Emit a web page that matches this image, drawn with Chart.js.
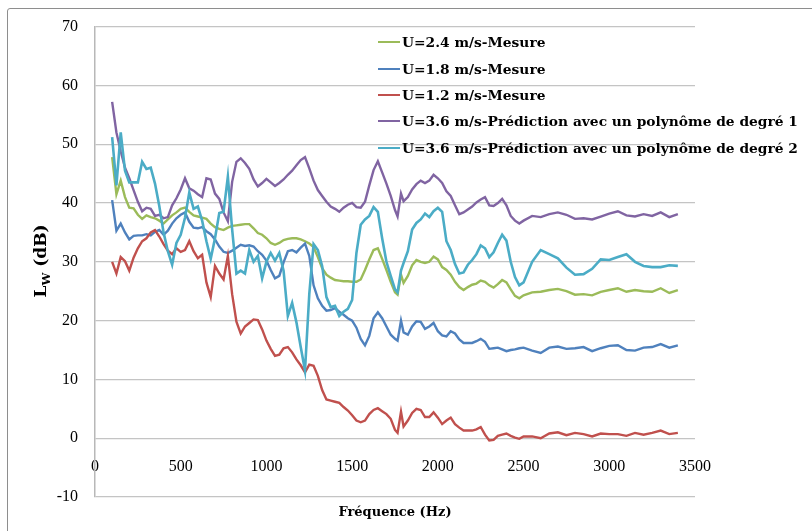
<!DOCTYPE html>
<html>
<head>
<meta charset="utf-8">
<script src="https://cdn.jsdelivr.net/npm/chart.js@4.4.1/dist/chart.umd.min.js"></script>
<style>
    body { margin: 0; background: #fff; }
    #wrap { position: relative; width: 812px; height: 531px; overflow: hidden; background: #fff; }
    #frame { position: absolute; left: 7px; top: 8px; width: 900px; height: 700px; border: 1px solid #8e8e8e; border-radius: 3px; pointer-events: none; }
    #legend { position: absolute; left: 378px; top: 29px; font: bold 13.8px "DejaVu Serif", serif; color: #000; }
    #legend .item { display: flex; align-items: center; height: 26.4px; white-space: nowrap; }
    #legend .sw { display: inline-block; width: 22px; height: 2px; margin-right: 2px; }
    #ytitle { position: absolute; left: 40px; top: 261px; transform: translate(-50%, -50%) rotate(-90deg); font: bold 17px "DejaVu Serif", serif; line-height: 20px; white-space: nowrap; color: #000; }
    #ytitle sub { font-size: 11.5px; line-height: 0; }
</style>
</head>
<body>
<div id="wrap">
    <canvas id="chart" width="812" height="531"></canvas>
    <div id="frame"></div>
    <div id="legend"></div>
    <div id="ytitle">L<sub>W</sub> (dB)</div>
</div>
<script>
// Fréquences (Hz)
const freqs = [
    100, 125, 150, 175, 200, 225, 250, 275, 300, 325,
    350, 375, 400, 425, 450, 475, 500, 525, 550, 575,
    600, 625, 650, 675, 700, 725, 750, 775, 800, 825,
    850, 875, 900, 925, 950, 975, 1000, 1025, 1050, 1075,
    1100, 1125, 1150, 1175, 1200, 1225, 1250, 1275, 1300, 1325,
    1350, 1375, 1400, 1425, 1450, 1475, 1500, 1525, 1550, 1575,
    1600, 1625, 1650, 1675, 1700, 1725, 1750, 1765, 1785, 1800,
    1825, 1850, 1875, 1900, 1925, 1950, 1975, 2000, 2025, 2050,
    2075, 2100, 2125, 2150, 2175, 2200, 2225, 2250, 2275, 2300,
    2325, 2350, 2375, 2400, 2425, 2450, 2475, 2500, 2550, 2600,
    2650, 2700, 2750, 2800, 2850, 2900, 2950, 3000, 3050, 3100,
    3150, 3200, 3250, 3300, 3350, 3400
];

// U=2.4 m/s - Mesure
const lwMesure24 = [
    47.8, 41.5, 43.8, 41.0, 39.2, 39.1, 38.0, 37.3, 37.9, 37.6,
    37.4, 37.0, 36.5, 37.2, 37.9, 38.4, 39.0, 39.2, 38.5, 37.9,
    37.7, 37.5, 37.3, 36.5, 35.9, 35.6, 35.4, 35.8, 36.1, 36.2,
    36.3, 36.4, 36.4, 35.7, 34.9, 34.6, 34.0, 33.2, 32.9, 33.2,
    33.7, 33.9, 34.0, 34.0, 33.8, 33.5, 33.1, 32.5, 30.8, 28.9,
    27.8, 27.3, 26.9, 26.8, 26.7, 26.7, 26.6, 26.6, 27.0, 28.6,
    30.4, 32.0, 32.3, 30.5, 28.6, 26.6, 24.8, 24.4, 27.8, 26.4,
    27.6, 29.4, 30.3, 30.0, 29.8, 30.0, 30.9, 30.4, 29.1, 28.6,
    27.8, 26.6, 25.7, 25.2, 25.7, 26.1, 26.3, 26.8, 26.6, 26.0,
    25.6, 26.2, 26.9, 26.5, 25.3, 24.2, 23.8, 24.3, 24.8, 24.9,
    25.2, 25.4, 25.0, 24.4, 24.5, 24.3, 24.9, 25.2, 25.5, 24.9,
    25.2, 25.0, 24.9, 25.5, 24.7, 25.2
];

// U=1.8 m/s - Mesure
const lwMesure18 = [
    40.5, 35.3, 36.5, 35.0, 33.8, 34.4, 34.5, 34.5, 34.7, 34.5,
    35.1, 35.4, 34.6, 35.3, 36.5, 37.4, 38.0, 38.4, 36.8, 35.8,
    35.7, 35.9, 35.2, 34.7, 33.8, 32.6, 31.7, 31.5, 31.9, 32.4,
    32.9, 32.7, 32.8, 32.6, 31.8, 31.2, 30.2, 28.6, 27.2, 27.6,
    29.9, 31.8, 32.0, 31.6, 32.4, 33.1, 31.0, 26.0, 23.8, 22.5,
    21.7, 21.8, 22.1, 21.5, 21.0, 20.4, 20.0, 18.8, 16.9, 15.8,
    17.4, 20.4, 21.4, 20.4, 19.0, 17.6, 16.9, 16.6, 20.0, 18.0,
    17.6, 19.0, 19.9, 19.8, 18.6, 19.0, 19.6, 18.2, 17.5, 17.3,
    18.2, 17.8, 16.8, 16.2, 16.2, 16.2, 16.5, 16.9, 16.4, 15.2,
    15.3, 15.4, 15.1, 14.8, 15.0, 15.1, 15.3, 15.4, 14.9, 14.5,
    15.4, 15.6, 15.2, 15.3, 15.5, 14.8, 15.3, 15.7, 15.8, 15.0,
    14.9, 15.4, 15.5, 16.0, 15.4, 15.8
];

// U=1.2 m/s - Mesure
const lwMesure12 = [
    30.0, 28.0, 30.8, 30.1, 28.5, 30.7, 32.3, 33.5, 34.0, 35.0,
    35.4, 34.3, 33.0, 31.9, 31.3, 32.3, 31.7, 32.0, 33.5, 31.8,
    30.6, 31.2, 26.5, 24.0, 29.3, 28.0, 27.0, 31.0, 24.5, 19.8,
    17.8, 19.0, 19.6, 20.2, 20.1, 18.5, 16.6, 15.2, 14.0, 14.2,
    15.3, 15.5, 14.6, 13.4, 12.4, 11.2, 12.5, 12.3, 10.6, 8.2,
    6.6, 6.4, 6.2, 6.0, 5.3, 4.7, 3.9, 3.0, 2.7, 3.0,
    4.1, 4.8, 5.1, 4.6, 4.1, 3.3, 1.4, 0.9, 4.5, 2.0,
    3.0, 4.3, 5.0, 4.8, 3.6, 3.6, 4.4, 3.5, 2.4, 3.0,
    3.5, 2.4, 1.8, 1.3, 1.3, 1.3, 1.5, 1.9, 0.6, -0.4,
    -0.3, 0.4, 0.6, 0.8, 0.4, 0.1, -0.1, 0.3, 0.3, 0.0,
    0.8, 1.0, 0.5, 0.9, 0.7, 0.3, 0.8, 0.7, 0.7, 0.4,
    0.9, 0.6, 0.9, 1.3, 0.7, 0.9
];

// U=3.6 m/s - Prédiction, polynôme de degré 1
const lwPred1 = [
    57.2, 52.0, 48.8, 46.0, 44.2, 42.2, 40.2, 38.6, 39.2, 39.0,
    37.8, 38.0, 37.4, 37.6, 39.6, 40.8, 42.3, 44.2, 42.5, 42.1,
    41.5, 41.0, 44.2, 44.0, 41.6, 40.7, 38.4, 36.9, 43.6, 47.0,
    47.6, 46.8, 45.8, 44.0, 42.8, 43.4, 44.1, 43.5, 42.9, 43.4,
    44.0, 44.8, 45.5, 46.4, 47.3, 47.8, 45.9, 43.8, 42.2, 41.2,
    40.2, 39.4, 39.0, 38.5, 39.2, 39.7, 40.0, 39.3, 39.2, 40.2,
    43.0, 45.6, 47.1, 45.2, 43.3, 41.2, 38.8, 37.7, 41.6, 40.3,
    41.0, 42.3, 43.2, 43.8, 43.4, 43.8, 44.8, 44.2, 43.4, 42.0,
    41.2, 39.6, 38.1, 38.4, 38.9, 39.4, 40.1, 40.6, 41.0, 39.6,
    39.5, 40.0, 40.7, 39.6, 37.8, 37.0, 36.5, 37.0, 37.8, 37.6,
    38.1, 38.4, 38.0, 37.3, 37.4, 37.2, 37.7, 38.2, 38.6, 37.9,
    37.7, 38.1, 37.8, 38.4, 37.6, 38.1
];

// U=3.6 m/s - Prédiction, polynôme de degré 2
const lwPred2 = [
    51.2, 43.0, 52.0, 45.5, 43.5, 43.5, 43.5, 47.0, 45.8, 46.0,
    43.3, 39.5, 35.0, 31.8, 29.5, 33.2, 34.6, 37.5, 41.8, 39.0,
    39.4, 37.0, 33.5, 30.5, 34.0, 38.3, 38.5, 44.5, 35.5, 28.0,
    28.5, 28.0, 32.0, 30.0, 31.0, 27.2, 30.0, 31.5, 30.2, 31.5,
    28.5, 20.8, 23.0, 19.7, 15.5, 11.5, 24.5, 33.0, 32.0, 29.3,
    24.0, 22.3, 22.5, 20.8, 21.5, 22.0, 23.5, 31.5, 36.3, 37.2,
    37.8, 39.3, 38.5, 34.0, 30.0, 27.6, 25.3, 24.8, 28.5, 29.8,
    31.8, 35.5, 36.6, 37.2, 38.2, 37.6, 38.6, 39.2, 38.5, 33.5,
    32.0, 29.6, 28.0, 28.2, 29.5, 30.3, 31.3, 32.8, 32.3, 30.8,
    31.6, 33.2, 34.6, 33.6, 30.0, 27.4, 26.0, 26.5, 30.0, 32.0,
    31.3, 30.6, 29.0, 27.8, 27.9, 28.8, 30.4, 30.3, 30.8, 31.3,
    30.0, 29.3, 29.1, 29.1, 29.4, 29.3
];

const seriesLabels = [
    'U=2.4 m/s-Mesure',
    'U=1.8 m/s-Mesure',
    'U=1.2 m/s-Mesure',
    'U=3.6 m/s-Prédiction avec un polynôme de degré 1',
    'U=3.6 m/s-Prédiction avec un polynôme de degré 2'
];
const seriesValues = [lwMesure24, lwMesure18, lwMesure12, lwPred1, lwPred2];
const seriesColors = ['#9BBB59', '#4F81BD', '#C0504D', '#8064A2', '#4BACC6'];

const tickFont = { family: 'Liberation Serif', size: 16 };

const datasets = seriesLabels.map((label, i) => ({
    label: label,
    data: freqs.map((f, k) => ({ x: f, y: seriesValues[i][k] })),
    borderColor: seriesColors[i],
    borderWidth: i === 4 ? 2.6 : 2.4,
    pointRadius: 0,
    tension: 0,
    fill: false,
    order: seriesLabels.length - i   // la dernière série est dessinée au-dessus
}));

const chart = new Chart(document.getElementById('chart'), {
    type: 'line',
    data: { datasets: datasets },
    options: {
        responsive: false,
        animation: false,
        layout: { padding: { left: 0, right: 117, top: 22, bottom: 0 } },
        plugins: { legend: { display: false }, tooltip: { enabled: false } },
        scales: {
            x: {
                type: 'linear', min: 0, max: 3500,
                ticks: { display: false },
                grid: { display: false },
                border: { display: false },
                title: {
                    display: true, text: 'Fréquence (Hz)', color: '#000',
                    font: { family: 'DejaVu Serif', size: 13, weight: 'bold' },
                    padding: { top: 0, bottom: 11 }
                },
                afterFit: s => { s.height = 34; }
            },
            x2: {
                type: 'linear', position: { y: 0 }, min: 0, max: 3500,
                ticks: { stepSize: 500, padding: 11, color: '#000', font: tickFont, callback: v => String(v) },
                grid: { display: false },
                border: { display: false }
            },
            y: {
                min: -10, max: 70,
                ticks: { stepSize: 10, padding: 17, color: '#000', font: tickFont, callback: v => String(v) },
                grid: { color: '#c4c4c4', lineWidth: 1.3, drawTicks: false },
                border: { display: true, color: '#b8b8b8', width: 1.5 },
                afterFit: s => { s.width = 95; }
            }
        }
    }
});

// Légende HTML
const legendBox = document.getElementById('legend');
chart.data.datasets.forEach(ds => {
    const row = document.createElement('div');
    row.className = 'item';
    row.innerHTML = `<span class="sw" style="background:${ds.borderColor}"></span><span>${ds.label}</span>`;
    legendBox.appendChild(row);
});
</script>
</body>
</html>
